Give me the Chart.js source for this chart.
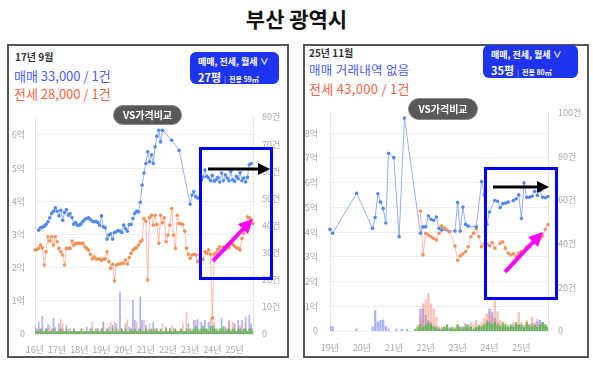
<!DOCTYPE html>
<html><head><meta charset="utf-8">
<script src="https://cdn.jsdelivr.net/npm/chart.js@4.4.0/dist/chart.umd.min.js"></script>
<style>
html,body{margin:0;padding:0;background:#fff;}
body{width:593px;height:366px;position:relative;overflow:hidden;font-family:"Noto Sans CJK KR","Noto Sans",sans-serif;}
.abs{position:absolute;white-space:nowrap;}
.panel{position:absolute;border:2px solid #555;box-sizing:border-box;}
.title{left:0;width:593px;top:4px;text-align:center;font-size:21px;font-weight:700;color:#111;line-height:28px;}
.date{font-size:10px;font-weight:700;color:#333;line-height:12px;}
.buy{font-size:13px;color:#4a5cf2;line-height:16px;}
.rent{font-size:13px;color:#f2653f;line-height:16px;}
.btn{background:#1f34ee;border-radius:6px;color:#fff;}
.btn .l1{position:absolute;left:8px;top:4px;font-size:9px;font-weight:700;line-height:12px;}
.btn .l2{position:absolute;left:8px;top:18px;font-size:11px;font-weight:700;line-height:14px;}
.btn .l2 small{font-size:7px;font-weight:700;}
.btn .l2 .sep{font-size:7px;font-weight:400;opacity:.7;margin:0 3px;}
.vs{background:#595959;border:1.5px solid #8a8a8a;border-radius:11px;color:#fff;font-size:10px;font-weight:700;text-align:center;box-sizing:border-box;z-index:5;}
canvas{position:absolute;}
svg{position:absolute;left:0;top:0;z-index:10;}
</style></head>
<body>
<div class="abs title">부산 광역시</div>
<div class="panel" style="left:7px;top:44px;width:282px;height:314px;"></div>
<div class="panel" style="left:303px;top:44px;width:286px;height:314px;"></div>

<div class="abs date" style="left:15px;top:51px;">17년 9월</div>
<div class="abs buy" style="left:14px;top:68px;">매매 33,000 / 1건</div>
<div class="abs rent" style="left:14px;top:86px;">전세 28,000 / 1건</div>
<div class="abs btn" style="left:190px;top:52px;width:89px;height:32px;"><div class="l1">매매, 전세, 월세 ∨</div><div class="l2">27평<span class="sep">|</span><small>전용 59㎡</small></div></div>
<div class="abs vs" style="left:113px;top:105px;width:69px;height:20px;line-height:17px;">VS가격비교</div>

<div class="abs date" style="left:309px;top:47px;">25년 11월</div>
<div class="abs buy" style="left:309px;top:62px;font-size:12.5px;letter-spacing:0.3px;">매매 거래내역 없음</div>
<div class="abs rent" style="left:309px;top:81px;letter-spacing:0.3px;">전세 43,000 / 1건</div>
<div class="abs btn" style="left:483px;top:45px;width:95px;height:33px;"><div class="l1">매매, 전세, 월세 ∨</div><div class="l2">35평<span class="sep">|</span><small>전용 80㎡</small></div></div>
<div class="abs vs" style="left:408px;top:98px;width:70px;height:22px;line-height:19px;">VS가격비교</div>

<canvas id="c1" width="280" height="256" style="left:8px;top:100px;"></canvas>
<canvas id="c2" width="284" height="261" style="left:304px;top:95px;"></canvas>

<svg width="593" height="366">
  <rect x="200.5" y="148.5" width="71" height="130" fill="none" stroke="#0000ff" stroke-width="3"/>
  <line x1="208" y1="169" x2="259" y2="169" stroke="#000" stroke-width="3"/>
  <polygon points="270,169 258,163 258,175" fill="#000"/>
  <line x1="213" y1="261" x2="245" y2="227" stroke="#ff00ff" stroke-width="4"/>
  <polygon points="253,219 238,224 248,234" fill="#ff00ff"/>

  <rect x="485.5" y="168.5" width="71" height="130" fill="none" stroke="#0000ff" stroke-width="3"/>
  <line x1="493" y1="187" x2="538" y2="187" stroke="#000" stroke-width="3"/>
  <polygon points="549,187 537,181 537,193" fill="#000"/>
  <line x1="505" y1="272" x2="535" y2="240" stroke="#ff00ff" stroke-width="4"/>
  <polygon points="543,232 528,237 538,247" fill="#ff00ff"/>
</svg>

<script>
// ---------- Left chart (27평) : 2016.01 ~ 2025.11 ----------
const leftYears = ['16년','17년','18년','19년','20년','21년','22년','23년','24년','25년'];
// 매매 가격 (억)
const leftBuyPrice = [
 null,null,3.13,3.20,3.22,3.25,3.30,3.38,3.50,3.63,3.70,3.80,
 3.70,3.56,3.73,3.43,3.66,3.75,3.58,3.63,3.51,3.31,3.36,3.28,
 3.28,3.32,3.40,3.46,3.48,3.50,3.45,3.40,3.38,3.40,3.36,3.28,
 3.56,3.23,3.20,2.86,2.98,3.02,2.86,3.06,3.08,3.12,3.10,3.06,
 3.28,3.18,3.10,3.30,3.30,3.48,3.63,3.70,3.68,3.97,4.49,4.85,
 5.14,5.49,5.19,5.40,5.14,5.64,5.96,6.14,5.79,6.14,null,null,
 null,null,5.84,null,null,null,5.54,null,null,null,null,null,
 3.91,4.19,4.29,4.14,4.10,4.10,4.64,4.73,4.94,4.75,4.70,4.62,
 4.78,4.60,4.65,4.72,4.58,4.85,4.62,4.80,4.70,4.62,4.90,4.65,
 4.60,4.75,4.68,4.86,4.62,4.70,4.58,4.72,5.10,5.14,null
];
// 전세 가격 (억)
const leftRentPrice = [
 2.53,2.55,2.58,2.68,2.60,2.08,2.48,2.93,2.80,2.93,2.68,2.93,
 2.78,2.58,2.48,2.38,2.08,2.58,2.58,2.58,2.80,2.68,2.73,2.73,
 2.73,2.73,2.73,2.63,2.58,2.53,2.40,2.26,2.33,2.26,2.26,2.26,
 2.22,2.26,2.26,2.48,2.18,1.98,2.10,1.60,2.08,2.11,2.11,2.13,
 2.13,2.23,2.11,2.30,2.43,2.53,2.58,2.60,2.68,2.78,2.83,3.48,
 3.40,1.63,3.50,3.58,3.28,3.58,3.30,2.73,3.58,3.35,3.50,2.78,
 2.98,3.28,3.78,2.98,2.58,3.58,3.33,3.33,3.30,3.10,2.58,2.40,
 2.28,2.38,2.40,2.38,2.18,2.38,2.23,2.25,2.48,2.43,2.53,2.40,
 0.48,2.40,2.45,2.55,2.63,2.50,2.63,2.55,2.65,2.60,2.78,2.70,
 2.65,2.60,2.58,2.53,2.88,3.03,3.20,3.53,3.50,3.45,3.33
];
// 거래 건수
const leftBuyCount = [
 1,2,4.5,2,6.6,1,2,3.6,1,2,5.8,2.5,
 1,3.9,1,2,1,3.3,1,2.1,1,1.5,0.5,1,
 0.9,1,0.5,1,2.7,1,1,2.1,1,1,2.1,1,
 1,4.5,1,1,2.7,1,3.3,1,3.9,1,15.6,2,
 1,3.9,1,2.7,1,12.5,5.2,1,2,13.8,5.2,1,
 3.3,1,2,1,4.5,1,2.1,1,1,1,1,2.7,
 1,1,1,2.1,1,1,1,1.5,1,1,1,3.9,
 1,1,5.2,1,5.4,1,4.5,1,5.2,1,4.5,1,
 1,3.3,1,1,1,6,1,2.7,1,4.5,1,1,
 3.9,1,5.2,1,5.2,1,6.4,1,7.0,3.9,2
];
const leftRentCount = [
 3.9,1,2,1,2,1,1,2,3.3,1,1,2,
 1,2,5.4,4,1,1,2,1,1,2,1,1,
 1,1,2,1,1,1,2,4.5,1,1,2,1,
 2,4.5,1,2,1,4.5,1,4.5,1,2,1,2,
 1,2,5.4,1,2,1,2,4.5,1,2,1,5.2,
 1,2,3.9,1,2,1,2,1,2,3.9,1,2,
 1,2,3.3,1,2,1,1,2,4.1,1,8.2,2,
 1,2,1,5.2,1,2,1,2,1,2,1,5.8,
 6.5,4.5,1,2,1,2,1,2,1,5.2,2,4.5,
 3.9,1,2,3.3,1,2,3.9,1,2,1,1
];
const leftMonthlyCount = [
 2,1,1,2,1,1,2,1,1,1,2,1,
 1,1,2,1,1,2,1,1,1,2,1,1,
 1,2,1,1,1,1,2,1,1,2,1,1,
 2,1,1,2,1,1,2,1,2,1,1,2,
 1,2,1,1,2,1,2,1,1,2,1,1,
 2,1,1,2,1,2,1,1,2,1,1,2,
 1,2,1,1,2,1,1,2,1,1,2,1,
 2,1,2,3,2,1,2,3,2,2,1,3,
 3,2,2,1,2,2,3,1,2,2,1,2,
 2,1,2,2,1,2,2,1,2,2,1
];

// ---------- Right chart (35평) : 2019.01 ~ 2025.11 ----------
const rightYears = ['19년','20년','21년','22년','23년','24년','25년'];
const rightBuyPrice = [
 4.11,3.95,null,null,null,null,null,null,null,null,5.57,null,
 null,null,null,null,4.15,4.59,5.55,5.21,4.95,4.37,7.19,null,
 7.01,null,3.81,null,8.61,null,null,null,null,null,3.95,4.21,
 4.21,4.65,4.52,4.48,4.61,4.15,4.08,null,null,null,null,4.04,
 5.19,4.04,5.01,4.31,4.24,null,null,4.21,null,6.04,5.51,4.32,
 4.81,null,5.28,5.25,4.99,5.15,5.17,5.21,null,5.28,5.35,5.51,
 4.55,5.99,5.41,5.41,5.45,5.65,5.48,5.68,5.41,5.39,5.44
];
const rightRentPrice = [
 null,null,null,null,null,null,null,null,null,null,null,null,
 null,null,null,null,null,null,null,null,null,null,null,null,
 null,null,null,null,null,null,null,null,null,null,4.85,3.08,
 3.95,3.88,3.81,3.75,3.68,3.95,4.24,4.15,4.08,4.01,null,3.44,
 2.85,3.04,3.12,3.21,3.41,3.81,3.95,4.15,3.81,3.41,3.52,3.52,
 3.45,3.57,3.35,null,3.55,3.61,3.35,3.15,3.08,3.12,3.01,3.15,
 3.21,null,3.41,3.41,null,3.55,3.68,3.75,3.84,4.11,4.30
];
const rightBuyCount = [
 2.3,2.3,0,0,0,0,0,0,0,0,1.2,0,
 0,0,0,0,2,9.5,4.3,5,5.3,2.3,1.2,0,
 0,1,0,1,0,1,0,0,0,1,10.3,10.3,
 7.3,5,4,2.5,1.5,1,1,2,1,1.5,1,1,
 2,1,2.2,3.5,1,2,1,1.5,2,2.5,3,5,
 10.3,8.8,6,4,3,2,2,1.5,2,3,2.5,3,
 2,1.5,3,2,3.5,2.5,4.3,5,4,3,2
];
const rightRentCount = [
 0,0,0,0,0,0,0,0,0,0,0,0,
 0,0,0,0,0,0,0,0,0,0,0,0,
 0,0,0,0,0,0,0,0,0,3,6,12.6,
 14.4,17.4,12.6,10.3,6.5,2.3,2,1.5,3,2,1,2,
 3,2,1.5,3,2,4,3,5,2,4,6,8,
 9,7,14,9,5,3,4,3,2,4,3,8.8,
 4,3,5,3,6.5,4,5.5,3,4,3,2
];
const rightMonthlyCount = [
 0,0,0,0,0,0,0,0,0,0,0,0,
 0,0,0,0,0,0,0,0,0,0,0,0,
 0,0,0,0,0,0,0,0,1,2,3,2,
 3,4,3,2,2,1,1,2,3,1,2,1,
 3,2,1,2,3,2,1,2,3,2,3,4,
 4,3,4,3,2,4,3,2,3,2,4,3,
 3,2,4,3,2,3,2,3,4,3,2
];

Chart.defaults.font.family = '"Noto Sans CJK KR","Noto Sans",sans-serif';
Chart.defaults.animation = false;

function monthLabels(years, count){
  const out = [];
  for (let i = 0; i < count; i++) out.push(years[Math.floor(i/12)] + ' ' + (i%12+1) + '월');
  return out;
}

function build(canvasId, years, buy, rent, bc, rc, mc, o){
  const labels = monthLabels(years, buy.length);
  const tickFont = {size:9};
  const tickColor = '#a8a8a8';
  new Chart(document.getElementById(canvasId), {
    type:'bar',
    data:{
      labels,
      datasets:[
        {type:'line', label:'매매', data:buy, yAxisID:'yP', order:0, spanGaps:true,
         borderColor:'rgba(125,155,245,0.8)', borderWidth:1, pointRadius:1.8, pointHoverRadius:2,
         pointBackgroundColor:'#5287f0', pointBorderWidth:0, tension:0},
        {type:'line', label:'전세', data:rent, yAxisID:'yP', order:0, spanGaps:true,
         borderColor:'rgba(248,165,145,0.75)', borderWidth:1, pointRadius:1.8, pointHoverRadius:2,
         pointBackgroundColor:'#f68f58', pointBorderWidth:0, tension:0},
        {label:'월세 건수', data:mc, yAxisID:'yC', order:1, grouped:false,
         backgroundColor:'rgba(70,185,60,0.75)', barPercentage:1, categoryPercentage:o.catPct},
        {label:'전세 건수', data:rc, yAxisID:'yC', order:2, grouped:false,
         backgroundColor:'rgba(250,140,120,0.55)', barPercentage:1, categoryPercentage:o.catPct},
        {label:'매매 건수', data:bc, yAxisID:'yC', order:3, grouped:false,
         backgroundColor:'rgba(100,115,250,0.55)', barPercentage:1, categoryPercentage:o.catPct}
      ]
    },
    options:{
      responsive:false, devicePixelRatio:1,
      layout:{padding:{top:o.padTop,left:0,right:0,bottom:0}},
      plugins:{legend:{display:false}, tooltip:{enabled:false}},
      scales:{
        x:{type:'category', offset:false,
           grid:{display:false, drawTicks:false}, border:{display:false},
           ticks:{autoSkip:false, maxRotation:0, minRotation:0, padding:o.xPad, color:tickColor, font:tickFont,
             callback:(v,i)=> i%12===0 ? years[i/12] : null},
           afterFit:s=>{s.height=o.xH;}},
        yP:{position:'left', min:0, max:o.pMax,
           grid:{color:'#eeeeee', drawTicks:false}, border:{display:true, color:'#e6e6e6'},
           ticks:{stepSize:1, padding:o.lPad, color:tickColor, font:tickFont,
             callback:v=> Number.isInteger(v) ? (v===0 ? '0' : v+'억') : null},
           afterFit:s=>{s.width=o.lW;}},
        yC:{position:'right', min:0, max:o.cMax,
           grid:{display:false, drawTicks:false}, border:{display:true, color:'#e6e6e6'},
           ticks:{stepSize:o.cStep, padding:o.rPad, color:tickColor, font:tickFont,
             callback:v=> v===0 ? '0' : v+'건'},
           afterFit:s=>{s.width=o.rW;}}
      }
    }
  });
}

build('c1', leftYears, leftBuyPrice, leftRentPrice, leftBuyCount, leftRentCount, leftMonthlyCount,
  {padTop:17, xH:22, xPad:10, lW:27, rW:35, lPad:10, rPad:9, pMax:6.54, cMax:80, cStep:10, catPct:0.9});
build('c2', rightYears, rightBuyPrice, rightRentPrice, rightBuyCount, rightRentCount, rightMonthlyCount,
  {padTop:16, xH:25, xPad:11, lW:26, rW:40, lPad:12, rPad:10, pMax:8.84, cMax:100, cStep:20, catPct:0.85});
</script>
</body></html>
